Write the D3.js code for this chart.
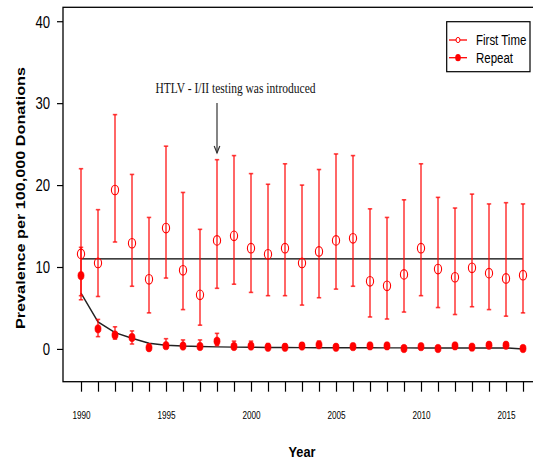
<!DOCTYPE html>
<html><head><meta charset="utf-8">
<script src="https://cdn.jsdelivr.net/npm/d3@7"></script>
<style>
body{margin:0;background:#fff;}
svg{display:block;}
text{font-family:"Liberation Sans",Arial,sans-serif;}
text.serif{font-family:"Liberation Serif","Times New Roman",serif;}
</style></head>
<body>
<svg id="chart" width="533" height="462"></svg>
<script>
const years = d3.range(1990, 2017);
const firstTimeValues = [11.6, 10.5, 19.4, 12.9, 8.5, 14.75, 9.6, 6.6, 13.25, 13.8, 12.3, 11.55, 12.3, 10.5, 11.9, 13.25, 13.5, 8.25, 7.7, 9.1, 12.3, 9.75, 8.75, 9.9, 9.25, 8.6, 9.0];
const firstTimeUpper = [22.0, 17.0, 28.6, 21.3, 16.05, 24.75, 19.1, 14.6, 23.1, 23.6, 21.4, 20.1, 22.6, 20.0, 21.9, 23.8, 23.6, 17.1, 16.05, 18.2, 22.6, 18.5, 17.2, 18.9, 17.7, 17.85, 17.7];
const firstTimeLower = [6.5, 6.4, 13.05, 7.65, 4.4, 8.65, 4.8, 2.9, 7.4, 7.9, 6.9, 6.5, 6.5, 5.35, 6.25, 7.3, 7.65, 3.9, 3.65, 4.5, 6.5, 5.05, 4.2, 5.15, 4.8, 4.0, 4.4];
const repeatValues = [8.95, 2.45, 1.7, 1.4, 0.15, 0.4, 0.35, 0.3, 0.95, 0.3, 0.35, 0.2, 0.2, 0.35, 0.5, 0.2, 0.28, 0.37, 0.37, 0.05, 0.28, 0.05, 0.37, 0.22, 0.45, 0.45, 0.05];
const repeatUpper = [12.4, 3.6, 2.7, 2.2, 0.6, 1.25, 1.1, 1.1, 1.9, 0.95, 0.95, 0.65, 0.6, 0.75, 0.95, 0.55, 0.65, 0.7, 0.7, 0.35, 0.6, 0.35, 0.7, 0.55, 0.8, 0.8, 0.35];
const repeatLower = [6.0, 1.5, 1.2, 0.6, 0.0, 0.1, 0.1, 0.05, 0.4, 0.05, 0.1, 0.05, 0.05, 0.1, 0.2, 0.05, 0.05, 0.1, 0.1, 0.0, 0.05, 0.0, 0.1, 0.05, 0.15, 0.15, 0.0];
const repeatFit = [6.8, 3.3, 2.0, 1.3, 0.7, 0.45, 0.35, 0.3, 0.25, 0.22, 0.2, 0.18, 0.17, 0.16, 0.15, 0.15, 0.14, 0.14, 0.13, 0.13, 0.12, 0.12, 0.12, 0.12, 0.12, 0.12, 0.0];
const firstTimeMean = 11;
const yTicks = [0, 10, 20, 30, 40];
const xTickLabels = [1990, 1995, 2000, 2005, 2010, 2015];
const legendLabels = ["First Time", "Repeat"];
const annotationText = "HTLV - I/II testing was introduced";
const annotationYear = 1998;

const svg = d3.select("#chart");
const boxL = 63, boxR = 541, boxT = 7.3, boxB = 381.7;
const x = d3.scaleLinear().domain([1990, 2016]).range([81, 523]);
const y = d3.scaleLinear().domain([-4, 41.7]).range([boxB, boxT]);
const red = "#ff0000";
const narrow = 0.82;

// plot box (right side is outside the picture)
svg.append("rect").attr("x", boxL).attr("y", boxT).attr("width", boxR - boxL).attr("height", boxB - boxT)
  .attr("fill", "none").attr("stroke", "#000").attr("stroke-width", 1.3);

// y axis
const yAxis = svg.append("g").attr("transform", `translate(${boxL},0)`)
  .call(d3.axisLeft(y).tickValues(yTicks).tickSize(6).tickPadding(6).tickFormat(d3.format("d")));
yAxis.select(".domain").remove();
yAxis.selectAll("line").attr("stroke", "#000").attr("stroke-width", 1.2);
yAxis.selectAll("text").attr("x", null).attr("font-size", 16).attr("fill", "#000").attr("dy", "0.36em")
  .attr("transform", `translate(-13,0) scale(${narrow},1)`);

// x axis
const xAxis = svg.append("g").attr("transform", `translate(0,${boxB})`)
  .call(d3.axisBottom(x).tickValues(years).tickSize(10).tickPadding(0).tickFormat(d => xTickLabels.includes(d) ? d : ""));
xAxis.select(".domain").remove();
xAxis.selectAll("line").attr("stroke", "#000").attr("stroke-width", 1.2);
xAxis.selectAll("text").attr("font-size", 10).attr("fill", "#000").attr("y", null).attr("dy", "0.71em")
  .attr("transform", `translate(0,30.5) scale(${narrow},1)`);

// axis titles
svg.append("text").attr("transform", `translate(302,457) scale(0.85,1)`).attr("text-anchor", "middle")
  .attr("font-weight", "bold").attr("font-size", 15).text("Year");
svg.append("text").attr("transform", "translate(25,198) rotate(-90)").attr("text-anchor", "middle")
  .attr("font-weight", "bold").attr("font-size", 13)
  .attr("textLength", 262).attr("lengthAdjust", "spacingAndGlyphs")
  .text("Prevalence per 100,000 Donations");

// reference line
svg.append("line").attr("x1", x(1990)).attr("x2", x(2016)).attr("y1", y(firstTimeMean)).attr("y2", y(firstTimeMean))
  .attr("stroke", "#000").attr("stroke-width", 1.3);

// fitted curve for repeat
svg.append("path").datum(years.map((yr, i) => [yr, repeatFit[i]]))
  .attr("d", d3.line().x(d => x(d[0])).y(d => y(d[1])))
  .attr("fill", "none").attr("stroke", "#222").attr("stroke-width", 1.4);

function errorBars(lo, hi) {
  const g = svg.append("g").attr("stroke", red).attr("stroke-opacity", 0.75).attr("stroke-width", 1.6);
  years.forEach((yr, i) => {
    const cx = x(yr);
    g.append("line").attr("x1", cx).attr("x2", cx).attr("y1", y(lo[i])).attr("y2", y(hi[i]));
    g.append("line").attr("x1", cx - 2.2).attr("x2", cx + 2.2).attr("y1", y(lo[i])).attr("y2", y(lo[i]));
    g.append("line").attr("x1", cx - 2.2).attr("x2", cx + 2.2).attr("y1", y(hi[i])).attr("y2", y(hi[i]));
  });
}
errorBars(firstTimeLower, firstTimeUpper);
errorBars(repeatLower, repeatUpper);

// points
svg.append("g").selectAll("ellipse").data(years).join("ellipse")
  .attr("cx", d => x(d)).attr("cy", (d, i) => y(firstTimeValues[i])).attr("rx", 3.6).attr("ry", 4.8)
  .attr("fill", "none").attr("stroke", red).attr("stroke-width", 1.1);
svg.append("g").selectAll("ellipse").data(years).join("ellipse")
  .attr("cx", d => x(d)).attr("cy", (d, i) => y(repeatValues[i])).attr("rx", 3.1).attr("ry", 4.2)
  .attr("fill", red).attr("stroke", red).attr("stroke-width", 0.5);

// annotation
svg.append("text").attr("class", "serif").attr("x", 235.5).attr("y", 93.3).attr("text-anchor", "middle")
  .attr("font-size", 15)
  .attr("textLength", 160).attr("lengthAdjust", "spacingAndGlyphs").attr("fill", "#111")
  .text(annotationText);
const ax = x(annotationYear);
svg.append("line").attr("x1", ax).attr("x2", ax).attr("y1", 103).attr("y2", 153)
  .attr("stroke", "#333").attr("stroke-width", 1.2);
svg.append("path").attr("d", `M${ax - 2.8},${146} L${ax},${153} L${ax + 2.8},${146}`)
  .attr("fill", "none").attr("stroke", "#333").attr("stroke-width", 1.2);

// legend
const lg = svg.append("g");
lg.append("rect").attr("x", 446.7).attr("y", 21.7).attr("width", 83.3).attr("height", 50)
  .attr("fill", "#fff").attr("stroke", "#000").attr("stroke-width", 1.2);
legendLabels.forEach((lab, i) => {
  const ly = 40 + i * 17.7;
  lg.append("line").attr("x1", 449).attr("x2", 467).attr("y1", ly).attr("y2", ly).attr("stroke", red).attr("stroke-width", 1.3);
  if (i === 0) {
    lg.append("ellipse").attr("cx", 458).attr("cy", ly).attr("rx", 2).attr("ry", 2.6).attr("fill", "#fff").attr("stroke", red).attr("stroke-width", 1);
  } else {
    lg.append("ellipse").attr("cx", 458).attr("cy", ly).attr("rx", 2.8).attr("ry", 3.6).attr("fill", red);
  }
  lg.append("text").attr("transform", `translate(476,${ly}) scale(${narrow},1)`).attr("dy", "0.36em")
    .attr("font-size", 14).attr("fill", "#000").text(lab);
});
</script>
</body></html>
